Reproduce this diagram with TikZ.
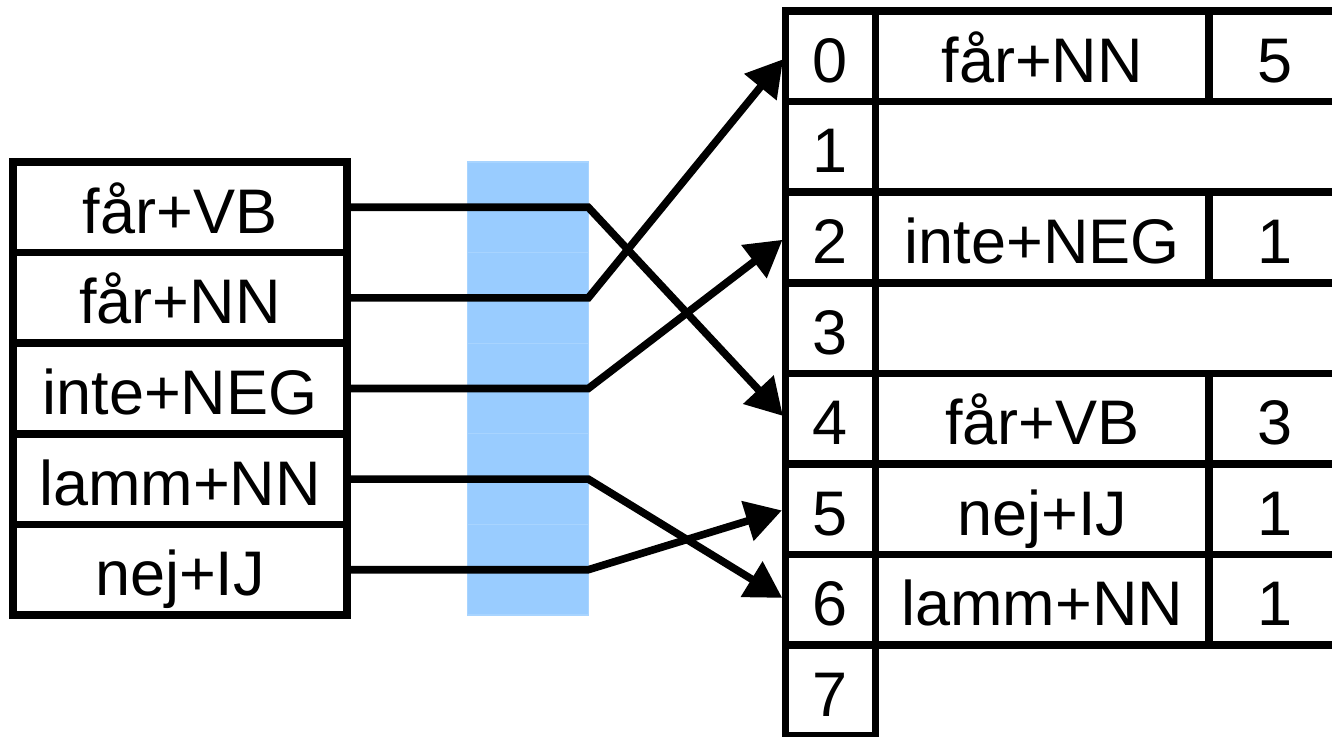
\documentclass[tikz,border=0pt]{standalone}
\usepackage{fontspec}
\setmainfont{Liberation Sans}
\usetikzlibrary{positioning,arrows.meta}
\definecolor{barblue}{HTML}{99CCFF}
\definecolor{barline}{HTML}{A8D4FF}

\begin{document}
\begin{tikzpicture}[x=0.5pt, y=-0.5pt,
  node distance=0pt,
  cell/.style={draw, line width=3.8pt, outer sep=0pt, inner sep=0pt,
               minimum height=45.3pt, text height=26pt, text depth=0pt,
               font=\fontsize{31.5}{36}\selectfont},
  lcell/.style={cell, minimum width=167pt},
  hcell/.style={fill=barblue, draw=barline, line width=0.6pt, outer sep=0pt,
                inner sep=0pt, minimum width=60.5pt, minimum height=45.3pt},
  icell/.style={cell, minimum width=45pt},
  ecell/.style={cell, minimum width=166.75pt},
  ncell/.style={cell, minimum width=66pt},
  arr/.style={-{Triangle[length=18pt, width=20pt]}, line width=3.8pt,
              shorten >=1.9pt}]
  \useasboundingbox (0,0) rectangle (1332,737);
  % hash bar
  \node[hcell] (b1) at (527.8,207.3) {};
  \node[hcell, below=of b1] (b2) {};
  \node[hcell, below=of b2] (b3) {};
  \node[hcell, below=of b3] (b4) {};
  \node[hcell, below=of b4] (b5) {};
  % input list
  \node[lcell] (l1) at (180,207.3) {får+VB};
  \node[lcell, below=of l1] (l2) {får+NN};
  \node[lcell, below=of l2] (l3) {inte+NEG};
  \node[lcell, below=of l3] (l4) {lamm+NN};
  \node[lcell, below=of l4] (l5) {nej+IJ};
  % hash table
  \node[icell] (i0) at (830.5,56.3) {0};
  \node[icell, below=of i0] (i1) {1};
  \node[icell, below=of i1] (i2) {2};
  \node[icell, below=of i2] (i3) {3};
  \node[icell, below=of i3] (i4) {4};
  \node[icell, below=of i4] (i5) {5};
  \node[icell, below=of i5] (i6) {6};
  \node[icell, below=of i6] (i7) {7};
  \node[ecell, right=of i0] (e0) {får+NN};   \node[ncell, right=of e0] (v0) {5};
  \node[ecell, right=of i2] (e2) {inte+NEG}; \node[ncell, right=of e2] (v2) {1};
  \node[ecell, right=of i4] (e4) {får+VB};   \node[ncell, right=of e4] (v4) {3};
  \node[ecell, right=of i5] (e5) {nej+IJ};   \node[ncell, right=of e5] (v5) {1};
  \node[ecell, right=of i6] (e6) {lamm+NN};  \node[ncell, right=of e6] (v6) {1};
  \foreach \a/\b in {1/4,2/0,3/2,4/6,5/5}
    \draw[arr] (l\a.east) -- (b\a.east) -- (i\b.west);
\end{tikzpicture}
\end{document}
